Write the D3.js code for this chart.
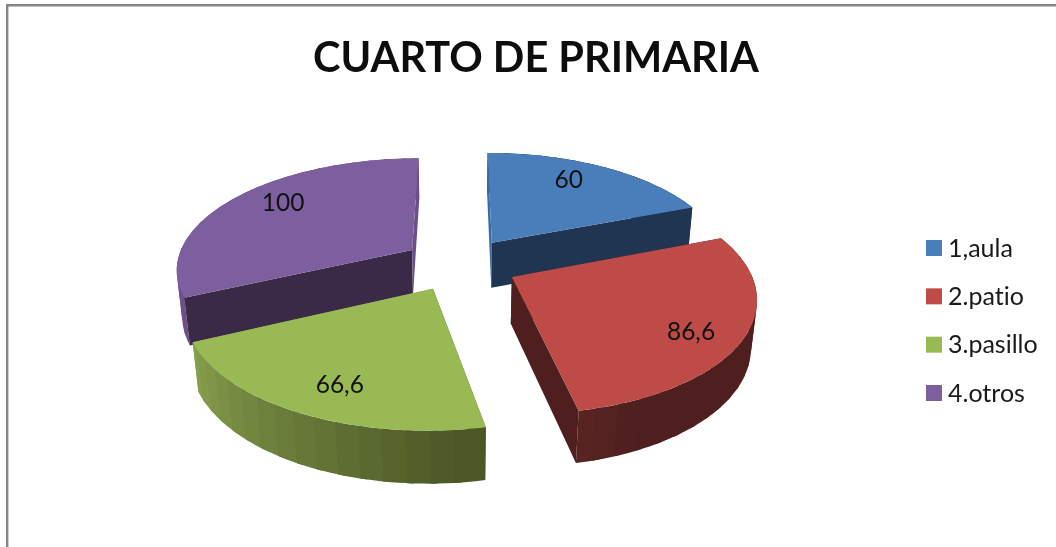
<!DOCTYPE html>
<html>
<head>
<meta charset="utf-8">
<script src="https://cdnjs.cloudflare.com/ajax/libs/d3/7.8.5/d3.min.js"></script>
<style>html,body{margin:0;padding:0;background:#fff}svg{display:block;filter:blur(0.4px)}text{font-variant-ligatures:none}</style>
</head>
<body>
<svg id="c" width="1056" height="547"></svg>
<script>
const titleText = "CUARTO DE PRIMARIA";
const categories = ["1,aula", "2.patio", "3.pasillo", "4.otros"];
const values = [60, 86.6, 66.6, 100];
const valueLabels = ["60", "86,6", "66,6", "100"];
const topColors = ["#4a7ebb", "#be4b48", "#98b954", "#7d5fa0"];
const cutWallColors = ["#1f3552", "#4f1f1f", "#8aa34f", "#3a2a48"];
const sideWallColors = ["#3f6a9f", "#4f1f1f", "#4b5725", "#6b5088"];
const rimStartColors = ["#1f3552", "#4f1f1f", "#4b5725", "#6b5088"];
const rimEndColors = ["#1f3552", "#5a2624", "#8aa34f", "#6b5088"];
const rimHoldFractions = [0.5, 0.84, 0.02, 0.5];
const labelAngleFractions = [0.43, 0.54, 0.47, 0.55];
const labelRadii = [0.78, 0.805, 0.78, 0.785];

const W = 1056, H = 547;
const svg = d3.select("#c");
const font = "Lato, 'Open Sans', sans-serif";

// Perspective projection of the pie's ground plane
const cx = 460, cy = 264, tilt = 0.46, persp = 1500, depthPersp = 2400;
const R = 240, squeezeX = 0.983, explode = 58, thickness = 47;
function project(X, Y, Z) {
  const w = 1 - Y / persp + Z / depthPersp;
  return [cx + X / w, cy + (tilt * Y + Z) / w];
}
const pie = d3.pie().sort(null).value(d => d)(values);
const line = d3.line();

function apex(s) {
  const m = (s.startAngle + s.endAngle) / 2;
  return [explode * Math.sin(m), -explode * Math.cos(m)];
}
function ground(s, a, r) {
  const o = apex(s);
  return [o[0] + r * squeezeX * Math.sin(a), o[1] - r * Math.cos(a)];
}

// Frame
svg.append("rect").attr("width", W).attr("height", H).attr("fill", "#fff");
svg.append("path").attr("d", `M7.2,${H}V5.2H${W}`).attr("fill", "none")
  .attr("stroke", "#868686").attr("stroke-width", 2.4);

svg.append("text").attr("x", 536).attr("y", 72).attr("text-anchor", "middle")
  .attr("font-family", font).attr("font-weight", 700).attr("font-size", 41.5)
  .attr("fill", "#0d0d0d").text(titleText);

const paintOrder = [0, 3, 1, 2];
const g = svg.append("g");
paintOrder.forEach(i => {
  const s = pie[i];
  const sl = g.append("g");
  const o = apex(s);
  const wall = (a, color) => {
    const e = ground(s, a, R);
    sl.append("path").attr("fill", color)
      .attr("d", line([project(o[0], o[1], 0), project(e[0], e[1], 0),
                       project(e[0], e[1], thickness), project(o[0], o[1], thickness)]) + "Z");
  };
  const radialFaces = () => {
    wall(s.startAngle, i === 3 ? cutWallColors[i] : sideWallColors[i]);
    wall(s.endAngle, i === 3 ? sideWallColors[i] : cutWallColors[i]);
  };
  // The third slice's radial faces look away from the viewer, so the rim covers them
  if (i === 2) radialFaces();
  // Outer rim in shaded bands; each band runs slightly under the next one
  const n = Math.ceil((s.endAngle - s.startAngle) / (5 * Math.PI / 180));
  const t = d3.scaleLinear().domain([0, n]).range([s.startAngle, s.endAngle]);
  const shade = d3.scaleLinear().domain([0, n * rimHoldFractions[i], n])
    .range([rimStartColors[i], rimStartColors[i], rimEndColors[i]]);
  d3.range(n).reverse().forEach(k => {
    const k3 = Math.min(k + 1.3, n);
    const steps = d3.range(0, 5).map(j => k + (k3 - k) * j / 4);
    const upper = steps.map(u => { const p = ground(s, t(u), R); return project(p[0], p[1], 0); });
    const lower = steps.map(u => { const p = ground(s, t(u), R); return project(p[0], p[1], thickness); }).reverse();
    sl.append("path").attr("fill", shade(k)).attr("d", line(upper.concat(lower)) + "Z");
  });
  if (i !== 2) radialFaces();
  // Top face
  const pts = [project(o[0], o[1], 0)];
  d3.range(0, 61).forEach(k => {
    const a = s.startAngle + (s.endAngle - s.startAngle) * k / 60;
    const p = ground(s, a, R);
    pts.push(project(p[0], p[1], 0));
  });
  sl.append("path").attr("d", line(pts) + "Z").attr("fill", topColors[i]);
});

// Value labels
svg.append("g").selectAll("text").data(pie).join("text")
  .attr("transform", (s, i) => {
    const a = s.startAngle + (s.endAngle - s.startAngle) * labelAngleFractions[i];
    const p = ground(s, a, R * labelRadii[i]);
    const q = project(p[0], p[1], 0);
    return `translate(${q[0]},${q[1]})`;
  })
  .attr("text-anchor", "middle").attr("dy", "0.36em")
  .attr("font-family", font).attr("font-size", 24.5).attr("fill", "#111")
  .text((s, i) => valueLabels[i]);

// Legend
const ly = d3.scalePoint().domain(categories).range([248, 393]);
const lg = svg.append("g").selectAll("g").data(categories).join("g")
  .attr("transform", d => `translate(926,${ly(d)})`);
lg.append("rect").attr("y", -8).attr("width", 16).attr("height", 16)
  .attr("fill", (d, i) => topColors[i]);
lg.append("text").attr("x", 22).attr("dy", "0.35em")
  .attr("font-family", font).attr("font-size", 25).attr("fill", "#1a1a1a").text(d => d);
</script>
</body>
</html>
